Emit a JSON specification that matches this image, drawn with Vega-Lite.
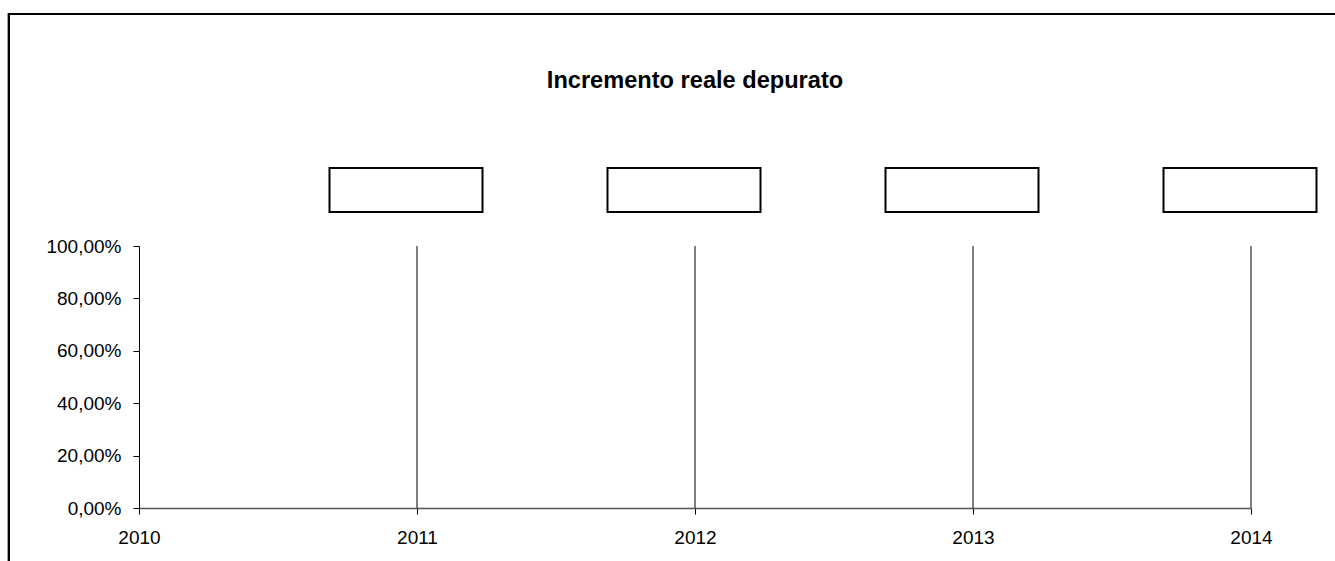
{
  "$schema": "https://vega.github.io/schema/vega-lite/v6.json",
  "autosize": {"type": "none"},
  "width": 1112,
  "height": 262,
  "padding": {"left": 139, "top": 246, "right": 84, "bottom": 53},
  "background": "white",
  "config": {
    "view": {"stroke": null},
    "font": "Liberation Sans"
  },
  "title": {
    "text": "Incremento reale depurato",
    "font": "Liberation Sans",
    "fontSize": 23.6,
    "fontWeight": "bold",
    "color": "#000000",
    "anchor": "middle",
    "frame": "group",
    "offset": -80
  },
  "data": {
    "values": [
      {"year": 2011, "value": 1},
      {"year": 2012, "value": 1},
      {"year": 2013, "value": 1},
      {"year": 2014, "value": 1}
    ]
  },
  "layer": [
    {
      "mark": {"type": "rect", "fill": null, "filled": false, "stroke": "#000000", "strokeWidth": 2},
      "encoding": {
        "x": {"datum": 2009.532, "type": "quantitative", "scale": {"domain": [2010, 2014], "nice": false, "zero": false}},
        "x2": {"datum": 2014.33},
        "y": {"datum": 1.8855, "type": "quantitative", "scale": {"domain": [0, 1], "nice": false, "zero": false}},
        "y2": {"datum": -0.23}
      }
    },
    {
      "mark": {"type": "rule", "color": "#000000", "strokeWidth": 1},
      "encoding": {
        "x": {
          "field": "year", "type": "quantitative",
          "scale": {"domain": [2010, 2014], "nice": false, "zero": false},
          "axis": {
            "title": null,
            "values": [2010, 2011, 2012, 2013, 2014],
            "format": "d",
            "grid": false,
            "labelFlush": false,
            "labelOverlap": false,
            "domainColor": "#555555",
            "domainWidth": 1.5,
            "tickColor": "#000000",
            "tickSize": 6,
            "labelFontSize": 19,
            "labelColor": "#000000",
            "labelPadding": 14,
            "labelFont": "Liberation Sans"
          }
        },
        "y": {
          "field": "value", "type": "quantitative",
          "scale": {"domain": [0, 1], "nice": false, "zero": false},
          "axis": {
            "title": null,
            "values": [0, 0.2, 0.4, 0.6, 0.8, 1],
            "labelExpr": "replace(format(datum.value, '.2%'), '.', ',')",
            "grid": false,
            "labelFlush": false,
            "labelOverlap": false,
            "domainColor": "#000000",
            "domainWidth": 1,
            "tickColor": "#000000",
            "tickSize": 6,
            "labelFontSize": 19,
            "labelColor": "#000000",
            "labelPadding": 12,
            "labelFont": "Liberation Sans"
          }
        },
        "y2": {"datum": 0}
      }
    },
    {
      "mark": {"type": "rect", "fill": "#ffffff", "stroke": "#000000", "strokeWidth": 2, "width": 153, "xOffset": -11},
      "encoding": {
        "x": {"field": "year", "type": "quantitative", "scale": {"domain": [2010, 2014], "nice": false, "zero": false}},
        "y": {"datum": 1.2977, "type": "quantitative", "scale": {"domain": [0, 1], "nice": false, "zero": false}},
        "y2": {"datum": 1.1298}
      }
    }
  ]
}
